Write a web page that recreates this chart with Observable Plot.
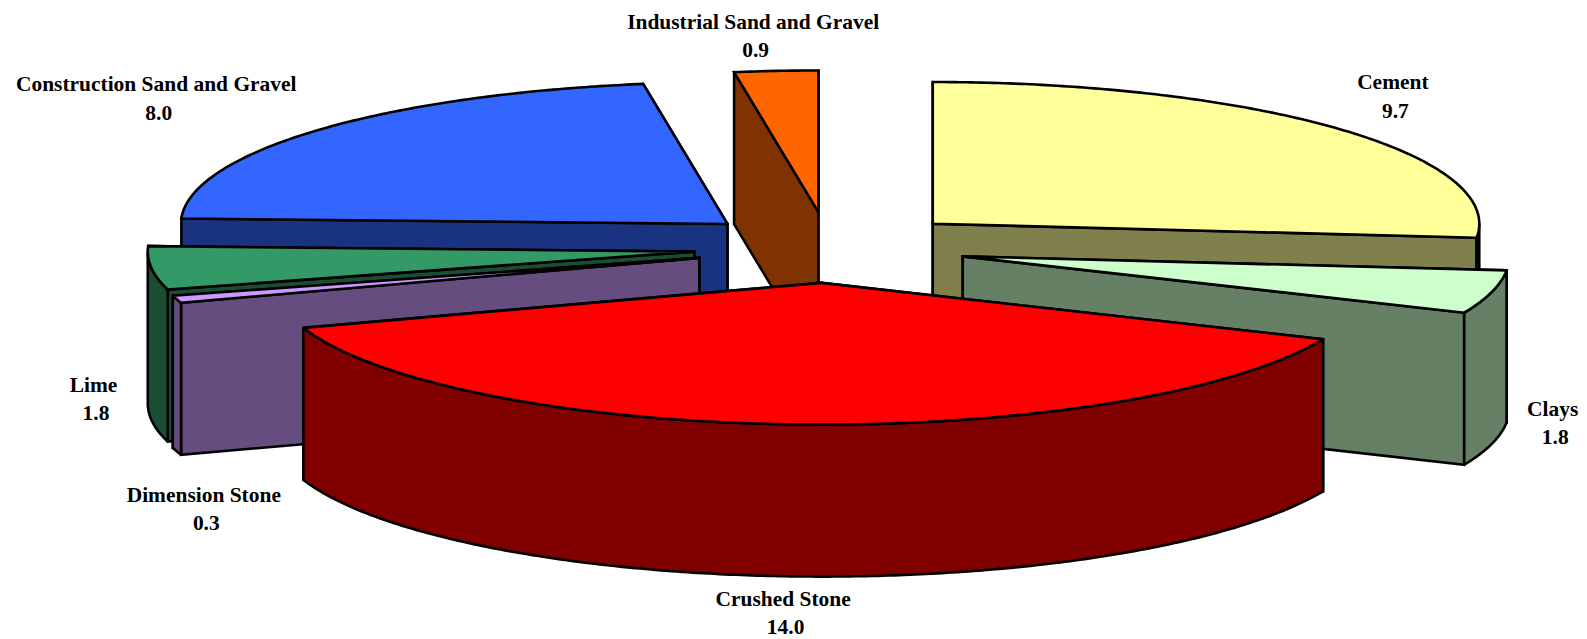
<!DOCTYPE html>
<html><head><meta charset="utf-8">
<script src="https://cdn.jsdelivr.net/npm/d3@7"></script>
<script src="https://cdn.jsdelivr.net/npm/@observablehq/plot@0.6"></script>
<style>html,body{margin:0;padding:0;background:#fff}svg{display:block}</style>
</head><body><div id="chart"></div>
<script>
const categories=["Cement","Clays","Crushed Stone","Dimension Stone","Lime","Construction Sand and Gravel","Industrial Sand and Gravel"];
const values=[9.7,1.8,14.0,0.3,1.8,8.0,0.9];
const topColors=["#FFFF99","#CCFFCC","#FF0000","#CC99FF","#339966","#3366FF","#FF6600"];
const sideColors=["#80804D","#668066","#800000","#664D80","#1A4D33","#1A3380","#803300"];
const paintOrder=[5,6,0,4,3,1,2];
const labelShift=[[55,-32],[61,131],[-15,189],[27,210],[-58,131],[-163,-31],[-23,-35]];
const sliceNudge=[2,1,-2,0.5,0.5,0,-0.5];

const W=1587,H=639,cx=829,cy=247,rx=546.5,ry=141.7,depth=152,explode=0.25;
const lineGap=28.3,valueDx=2.5;
const total=d3.sum(values),wall=depth/ry;
let acc=0;
const slices=values.map((v,i)=>{
  const a0=acc/total*2*Math.PI;acc+=v;const a1=acc/total*2*Math.PI;const mid=(a0+a1)/2;
  return {i,a0,a1,mid,ox:explode*Math.sin(mid)+sliceNudge[i]/rx,oy:-explode*Math.cos(mid)};
});
const rim=(s,a,d=0)=>({x:s.ox+Math.sin(a),y:s.oy-Math.cos(a)+d});
const arc=(s,a0,a1,d=0)=>{
  const n=Math.max(2,Math.ceil((a1-a0)/0.01)),pts=[];
  for(let k=0;k<=n;k++)pts.push(rim(s,a0+(a1-a0)*k/n,d));
  return pts;
};
const close=p=>[...p,p[0],p[1]];
const apex=(s,d=0)=>({x:s.ox,y:s.oy+d});
const face=(s,a)=>close([apex(s),rim(s,a),rim(s,a,wall),apex(s,wall)]);
const polys=[];
for(const i of paintOrder){
  const s=slices[i];
  const left=s.mid>Math.PI;
  const faces=left?[s.a1,s.a0]:[s.a0,s.a1];
  for(const a of faces)polys.push({pts:face(s,a),fill:sideColors[i]});
  const w0=Math.max(s.a0,Math.PI/2),w1=Math.min(s.a1,3*Math.PI/2);
  if(w1>w0)polys.push({pts:close([...arc(s,w0,w1),...arc(s,w0,w1,wall).reverse()]),fill:sideColors[i]});
  polys.push({pts:close([apex(s),...arc(s,s.a0,s.a1)]),fill:topColors[i]});
}
const textStyle={x:"x",y:"y",fontFamily:"Liberation Serif",fontWeight:"bold",fontSize:21.45,fill:"#000"};
const labels=slices.map(s=>({...rim(s,s.mid),name:categories[s.i],value:values[s.i].toFixed(1),dx:labelShift[s.i][0],dy:labelShift[s.i][1]}));
const plot=Plot.plot({
  width:W,height:H,margin:0,
  x:{domain:[-cx/rx,(W-cx)/rx],range:[0,W],axis:null},
  y:{domain:[-cy/ry,(H-cy)/ry],range:[0,H],axis:null},
  style:{background:"#fff"},
  marks:[
    ...polys.map(p=>Plot.line(p.pts,{x:"x",y:"y",fill:p.fill,stroke:"#000",strokeWidth:2.6,strokeLinejoin:"miter",strokeMiterlimit:2,curve:"linear"})),
    ...labels.flatMap(l=>[
      Plot.text([l],{...textStyle,text:"name",dx:l.dx,dy:l.dy-lineGap/2}),
      Plot.text([l],{...textStyle,text:"value",dx:l.dx+valueDx,dy:l.dy+lineGap/2})
    ])
  ]
});
document.getElementById("chart").append(plot);
</script></body></html>
